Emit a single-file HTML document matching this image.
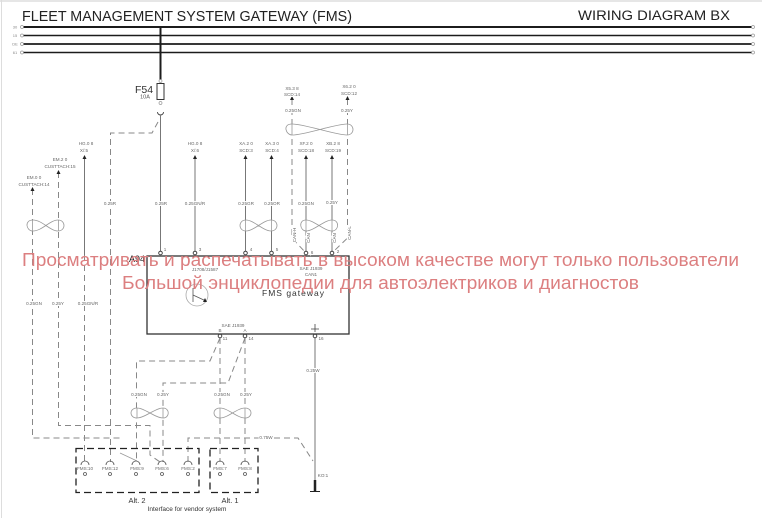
<!DOCTYPE html>
<html><head><meta charset="utf-8"><style>
html,body{margin:0;padding:0;background:#fff;width:762px;height:518px;overflow:hidden}
svg{display:block;filter:blur(.35px)}
text{font-family:"Liberation Sans",sans-serif}
.s{fill:#666;font-size:4.6px;text-anchor:middle;stroke:#fff;stroke-width:2px;paint-order:stroke}
.w{stroke:#777;stroke-width:1;fill:none}
.d{stroke:#888;stroke-width:1;fill:none;stroke-dasharray:6 4}
.t{stroke:#999;stroke-width:.8;fill:#fff}
.c{fill:#fff;stroke:#444;stroke-width:1}
.b{stroke:#222;stroke-width:1.3;fill:none;stroke-dasharray:7 4}
</style></head><body>
<svg width="762" height="518" viewBox="0 0 762 518" xmlns="http://www.w3.org/2000/svg">
<rect width="762" height="518" fill="#fff"/>
<path d="M0 1H762" stroke="#ccc"/><path d="M1.500 0V518" stroke="#ddd"/>
<text x="22" y="21" font-size="14.500" fill="#222" textLength="330" lengthAdjust="spacingAndGlyphs">FLEET MANAGEMENT SYSTEM GATEWAY (FMS)</text>
<text x="578" y="20" font-size="13.500" fill="#222" textLength="152" lengthAdjust="spacingAndGlyphs">WIRING DIAGRAM BX</text>
<g stroke="#1c1c1c">
<path d="M22 27H752" stroke-width="2"/><path d="M22 35.500H752" stroke-width="1.500"/><path d="M22 44H752" stroke-width="1.800"/><path d="M22 52.500H752" stroke-width="1.500"/>
<path d="M160.500 27V80" stroke-width="2"/>
</g>
<g class="s" style="font-size:4px;fill:#888"><text x="15" y="28.500">30</text><text x="15" y="37">15</text><text x="15" y="45.500">DE</text><text x="15" y="54">61</text></g>
<g fill="#fff" stroke="#999" stroke-width=".7"><circle cx="22" cy="27" r="1.500"/><circle cx="22" cy="35.500" r="1.500"/><circle cx="22" cy="44" r="1.500"/><circle cx="22" cy="52.500" r="1.500"/><circle cx="753" cy="27" r="1.500"/><circle cx="753" cy="35.500" r="1.500"/><circle cx="753" cy="44" r="1.500"/><circle cx="753" cy="52.500" r="1.500"/><circle cx="160.500" cy="81" r="1.500"/><circle cx="160.500" cy="103" r="1.500"/></g>
<rect x="157" y="83.500" width="7" height="16" fill="#fff" stroke="#333" stroke-width="1"/>
<text x="135" y="93" font-size="10.500" fill="#333">F54</text>
<text x="145" y="98.500" font-size="5.500" fill="#555" text-anchor="middle">10A</text>
<path d="M157.500 112a3 3 0 0 0 6 0" fill="none" stroke="#444" stroke-width=".9"/>

<!-- solid wires -->
<path class="w" d="M160.500 115V253M195 157V253M245.500 157V253M271.500 157V253M306 157V253M332 157V253"/>
<path class="w" d="M84.500 157V255"/>
<path class="w" d="M315 334V480"/>
<path d="M315 480V491" stroke="#222" stroke-width="2.500"/><path d="M310 491.500H320" stroke="#222" stroke-width="1"/>
<!-- dashed wires -->
<path class="d" d="M32.500 189V438H123"/>
<path d="M120 453L137 461" stroke="#999" stroke-width=".8"/>
<path class="d" d="M58.500 172V425.500H150V455L160 462"/>
<path class="d" d="M84.500 255V462"/>
<path class="d" d="M158 122L152 133H110.500V462"/>
<path class="d" d="M292 99V238L306 253"/>
<path class="d" d="M347.500 99V238L332 253"/>
<path class="d" d="M220 338L210 361H136.500V462"/>
<path class="d" d="M245 338L228 383H163V462"/>
<path class="d" d="M220 338V462M245 338V462"/>
<path class="d" d="M188 462V438H298L313 461"/>
<g fill="#222"><path d="M32.500 187l-2 4h4zM58.500 170l-2 4h4zM84.500 155l-2 4h4zM195 155l-2 4h4zM245.500 155l-2 4h4zM271.500 155l-2 4h4zM306 155l-2 4h4zM332 155l-2 4h4zM292 96l-2 4h4zM347.500 96l-2 4h4z"/></g>
<!-- twists -->
<path class="t" d="M292 124C282 124 286 135 292 135C305 135 335 124 347 124C355 124 355 135 347 135C335 135 305 124 292 124Z"/>
<path class="t" d="M33 220C24 220 26 231 33 231C42 231 50 220 58 220C66 220 66 231 58 231C50 231 42 220 33 220Z"/>
<path class="t" d="M246 220C238 220 238 231 246 231C254 231 263 220 271 220C279 220 279 231 271 231C263 231 254 220 246 220Z"/>
<path class="t" d="M306 220C298 220 300 231 306 231C314 231 324 220 332 220C340 220 339 231 332 231C324 231 314 220 306 220Z"/>
<path class="t" d="M137 408C129 408 129 418 137 418C145 418 155 408 163 408C170 408 170 418 163 418C155 418 145 408 137 408Z"/>
<path class="t" d="M220 408C212 408 212 418 220 418C228 418 237 408 245 408C253 408 253 418 245 418C237 418 228 408 220 408Z"/>
<path d="M32.500 220V231M58.500 220V231M245.500 220V231M271.500 220V231M306 220V231M332 220V231M292 124V135M347.500 124V135M137 408V418M163 408V418M220 408V418M245 408V418" stroke="#999" stroke-width=".8"/>
<!-- gateway -->
<rect x="147" y="256" width="202" height="78" fill="#fff" stroke="#333" stroke-width="1.300"/>
<circle cx="197" cy="295" r="11" fill="none" stroke="#aaa" stroke-width=".8"/>
<path d="M193 288V302M193 295L206 301" stroke="#555" stroke-width=".8" fill="none"/><path d="M207 302L203 302L205 298Z" fill="#222"/>
<text x="262" y="296" font-size="8.500" fill="#333" textLength="62" lengthAdjust="spacing">FMS gateway</text>
<text x="129" y="262" font-size="9" fill="#222">A94</text>
<path d="M315 324V332M311 329H319" stroke="#444" stroke-width=".8"/>
<g class="c"><circle cx="160.500" cy="253" r="1.800"/><circle cx="195" cy="253" r="1.800"/><circle cx="245.500" cy="253" r="1.800"/><circle cx="271.500" cy="253" r="1.800"/><circle cx="306" cy="253" r="1.800"/><circle cx="332" cy="253" r="1.800"/><circle cx="220" cy="336" r="1.800"/><circle cx="245" cy="336" r="1.800"/><circle cx="315" cy="336" r="1.800"/></g>
<!-- labels -->
<g class="s">
<text x="86" y="145">HG.0 8</text><text x="84" y="152">X/:5</text>
<text x="60" y="161">EM.2 0</text><text x="60" y="168">CUSTTACH:15</text>
<text x="34" y="179">EM.0 0</text><text x="34" y="186">CUSTTACH:14</text>
<text x="195" y="145">HG.0 8</text><text x="195" y="152">X/:6</text>
<text x="246" y="145">XA.2 0</text><text x="246" y="152">SCD:3</text>
<text x="272" y="145">XA.3 0</text><text x="272" y="152">SCD:4</text>
<text x="306" y="145">XF.2 0</text><text x="306" y="152">SCD:18</text>
<text x="333" y="145">XB.2 8</text><text x="333" y="152">SCD:19</text>
<text x="292" y="90">X5.3 8</text><text x="292" y="96">SCD:14</text>
<text x="349" y="88">X6.2 0</text><text x="349" y="95">SCD:12</text>
<text x="293" y="112">0.25GN</text><text x="347" y="112">0.25Y</text>
<text x="110" y="205">0.25R</text><text x="161" y="205">0.25R</text><text x="195" y="205">0.25GN/R</text><text x="246" y="205">0.25GR</text><text x="272" y="205">0.25OR</text><text x="306" y="205">0.25GN</text><text x="332" y="204">0.25Y</text>
<text x="34" y="305">0.25GN</text><text x="58" y="305">0.25Y</text><text x="88" y="305">0.25GN/R</text>
<text x="313" y="372">0.25W</text>
<text x="139" y="396">0.25GN</text><text x="163" y="396">0.25Y</text><text x="222" y="396">0.25GN</text><text x="246" y="396">0.25Y</text>
<text x="266" y="439">0.75W</text>
<text x="323" y="477">KO:1</text>
<text x="205" y="271">J1708/J1587</text><text x="311" y="270">SAE J1939</text><text x="311" y="276">CAN1</text>
<text x="233" y="327">SAE J1939</text><text x="220" y="332">B</text><text x="245" y="332">A</text>
<text x="165" y="251">1</text><text x="200" y="251">3</text><text x="251" y="251">4</text><text x="277" y="251">5</text><text x="312" y="254">6</text><text x="338" y="253">2</text>
<text x="225" y="340">11</text><text x="251" y="340">14</text><text x="321" y="340">16</text>
<text transform="translate(296 235) rotate(-90)">CAN-H</text><text transform="translate(310 238) rotate(-90)">CAN</text><text transform="translate(336 238) rotate(-90)">CAN</text><text transform="translate(351 233) rotate(-90)">CAN-L</text>
<text x="85" y="470">FMS:10</text><text x="110" y="470">FMS:12</text><text x="137" y="470">FMS:9</text><text x="162" y="470">FMS:6</text><text x="188" y="470">FMS:2</text><text x="220" y="470">FMS:7</text><text x="245" y="470">FMS:8</text>
</g>
<g fill="none" stroke="#555" stroke-width=".8">
<path d="M81 465a4 4 0 0 1 8 0M106 465a4 4 0 0 1 8 0M132 465a4 4 0 0 1 8 0M158 465a4 4 0 0 1 8 0M184 465a4 4 0 0 1 8 0M216 465a4 4 0 0 1 8 0M241 465a4 4 0 0 1 8 0"/>
<circle cx="85" cy="474" r="1.500"/><circle cx="110" cy="474" r="1.500"/><circle cx="136" cy="474" r="1.500"/><circle cx="162" cy="474" r="1.500"/><circle cx="188" cy="474" r="1.500"/><circle cx="220" cy="474" r="1.500"/><circle cx="245" cy="474" r="1.500"/>
</g>
<rect class="b" x="76" y="448.500" width="123" height="44"/>
<rect class="b" x="210" y="448.500" width="48" height="44"/>
<text x="137" y="503" font-size="7.500" fill="#333" text-anchor="middle">Alt. 2</text>
<text x="230" y="503" font-size="7.500" fill="#333" text-anchor="middle">Alt. 1</text>
<text x="187" y="511" font-size="6.500" fill="#333" text-anchor="middle">Interface for vendor system</text>
<!-- watermark -->
<text x="22" y="266" font-size="18" fill="#dc7f80" textLength="717" lengthAdjust="spacingAndGlyphs">Просматривать и распечатывать в высоком качестве могут только пользователи</text>
<text x="122" y="289" font-size="18" fill="#dc7f80" textLength="517" lengthAdjust="spacingAndGlyphs">Большой энциклопедии для автоэлектриков и диагностов</text>
</svg>
</body></html>
